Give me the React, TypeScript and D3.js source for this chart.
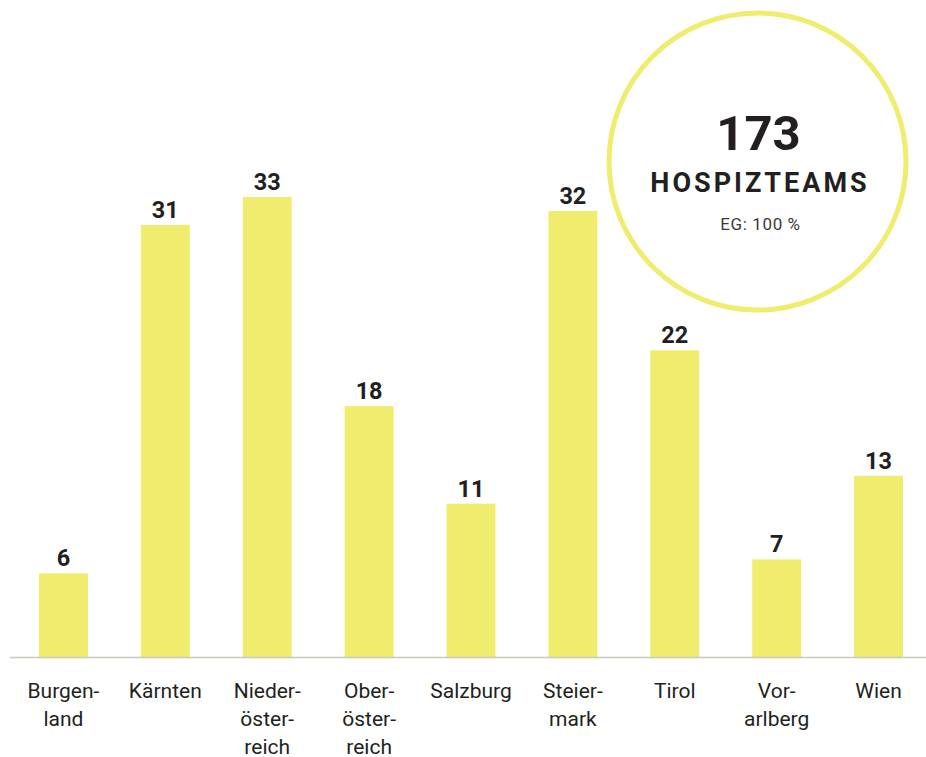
import React, { useEffect, useRef } from "react";
import * as d3 from "d3";

// Hospizteams per Bundesland
const regions = [
    ["Burgen-", "land"],
    ["Kärnten"],
    ["Nieder-", "öster-", "reich"],
    ["Ober-", "öster-", "reich"],
    ["Salzburg"],
    ["Steier-", "mark"],
    ["Tirol"],
    ["Vor-", "arlberg"],
    ["Wien"],
];
const teams = [6, 31, 33, 18, 11, 32, 22, 7, 13];
const totalLabel = "173";
const totalTitle = "HOSPIZTEAMS";
const totalNote = "EG: 100 %";

const WIDTH = 926;
const HEIGHT = 757;
const YELLOW = "#f0ec6e";
const INK = "#231f20";

const App = () => {
    const svgRef = useRef<SVGSVGElement>(null);

    useEffect(() => {
        const svg = d3.select(svgRef.current);
        svg.selectAll("*").remove();

        const baseY = 657;
        const keys = regions.map((_, i) => String(i));

        const xScale = d3
            .scaleBand()
            .domain(keys)
            .range([12.5, 929.5])
            .paddingInner(0.52)
            .paddingOuter(0.26);
        const yScale = d3.scaleLinear().domain([0, 33]).range([baseY, 197]);

        const g = svg.append("g");

        // bars
        g.selectAll("rect.bar")
            .data(teams)
            .enter()
            .append("rect")
            .attr("class", "bar")
            .attr("x", (_, i) => xScale(String(i)))
            .attr("y", (d) => yScale(d))
            .attr("width", xScale.bandwidth())
            .attr("height", (d) => baseY - yScale(d))
            .attr("fill", YELLOW);

        // baseline
        g.append("line")
            .attr("x1", 10)
            .attr("x2", WIDTH)
            .attr("y1", baseY + 0.5)
            .attr("y2", baseY + 0.5)
            .attr("stroke", "#c9c8bc")
            .attr("stroke-width", 1.5);

        // value labels
        g.selectAll("text.value")
            .data(teams)
            .enter()
            .append("text")
            .attr("class", "value")
            .attr("x", (_, i) => xScale(String(i)) + xScale.bandwidth() / 2)
            .attr("y", (d) => yScale(d) - 7)
            .attr("text-anchor", "middle")
            .attr("font-family", "Roboto, sans-serif")
            .attr("font-weight", 700)
            .attr("font-size", 23.5)
            .attr("fill", INK)
            .text((d) => d);

        // category labels, broken over lines
        const cats = g
            .selectAll("text.cat")
            .data(regions)
            .enter()
            .append("text")
            .attr("class", "cat")
            .attr("text-anchor", "middle")
            .attr("font-family", "Roboto, sans-serif")
            .attr("font-size", 21)
            .attr("fill", INK);
        cats.each(function (lines, i) {
            const cx = xScale(String(i)) + xScale.bandwidth() / 2;
            d3.select(this)
                .selectAll("tspan")
                .data(lines)
                .enter()
                .append("tspan")
                .attr("x", cx)
                .attr("y", (_, j) => 697.5 + j * 28)
                .text((d) => d);
        });

        // total badge
        const cx = 757.5;
        const cy = 161.5;
        const badge = svg.append("g");
        badge
            .append("circle")
            .attr("cx", cx)
            .attr("cy", cy)
            .attr("r", 148.5)
            .attr("fill", "#fff")
            .attr("stroke", YELLOW)
            .attr("stroke-width", 5);
        badge
            .append("text")
            .attr("x", cx + 1)
            .attr("y", 150)
            .attr("text-anchor", "middle")
            .attr("font-family", "Roboto, sans-serif")
            .attr("font-weight", 700)
            .attr("font-size", 49)
            .attr("fill", INK)
            .text(totalLabel);
        badge
            .append("text")
            .attr("x", cx + 2.5)
            .attr("y", 192)
            .attr("text-anchor", "middle")
            .attr("font-family", "Roboto, sans-serif")
            .attr("font-weight", 700)
            .attr("font-size", 27)
            .attr("letter-spacing", 3)
            .attr("fill", INK)
            .text(totalTitle);
        badge
            .append("text")
            .attr("x", cx + 3)
            .attr("y", 230)
            .attr("text-anchor", "middle")
            .attr("font-family", "Roboto, sans-serif")
            .attr("font-size", 17)
            .attr("letter-spacing", 0.6)
            .attr("fill", "#3a3a3a")
            .text(totalNote);
    }, []);

    return (
        <div style={{ position: "absolute", left: 0, top: 0, background: "#fff" }}>
            <svg
                ref={svgRef}
                width={WIDTH}
                height={HEIGHT}
                style={{ display: "block" }}
            ></svg>
        </div>
    );
};

export default App;
